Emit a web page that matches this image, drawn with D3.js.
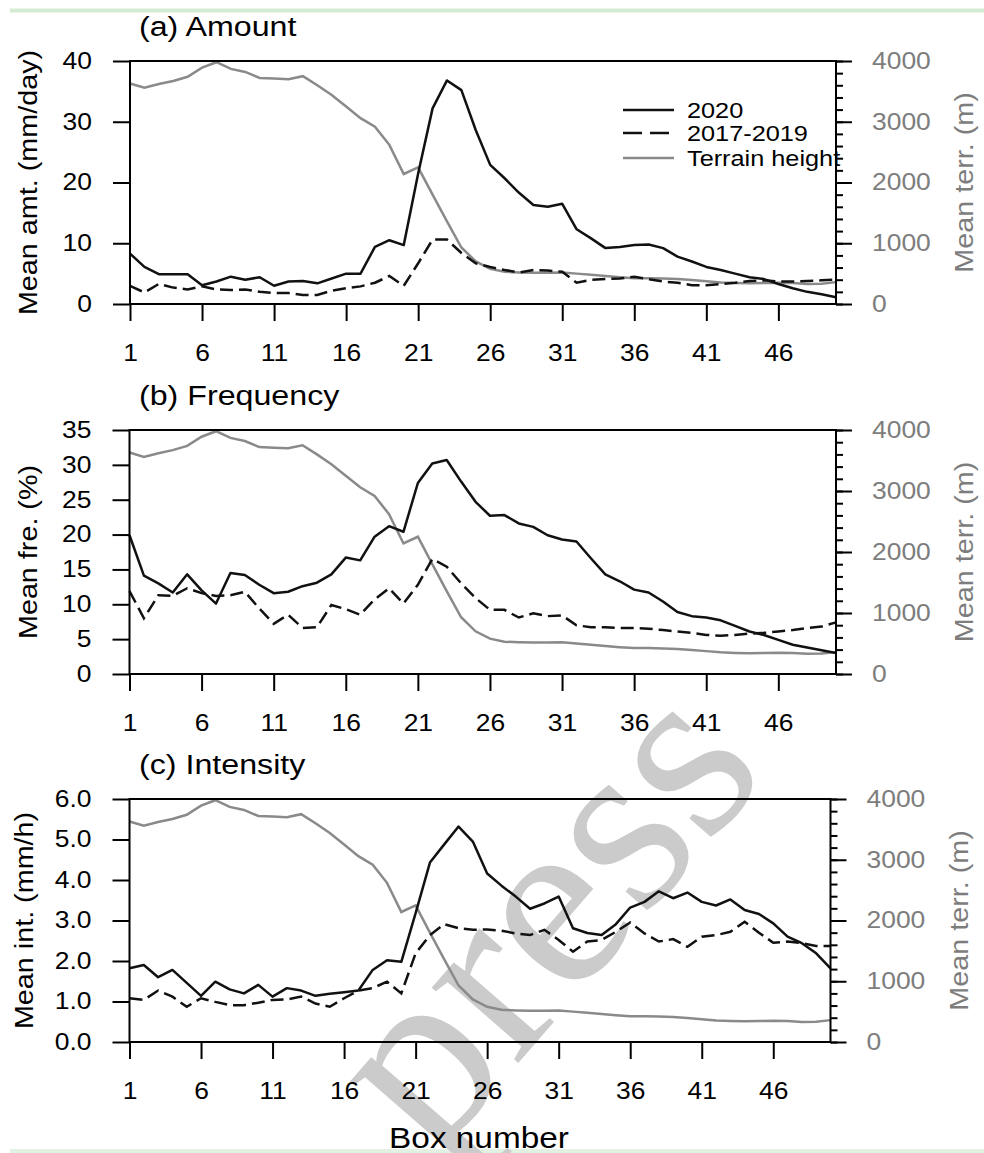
<!DOCTYPE html>
<html>
<head>
<meta charset="utf-8">
<script src="https://cdn.jsdelivr.net/npm/d3@7"></script>
<style>
  body { margin: 0; background: #fff; }
  svg { display: block; }
  text { font-family: "Liberation Sans", Arial, sans-serif; }
</style>
</head>
<body>
<svg id="chart" width="984" height="1153"></svg>
<script>
// box numbers along the x axis
const boxes = d3.range(1, 51)
const boxTicks = [1, 6, 11, 16, 21, 26, 31, 36, 41, 46]

// mean terrain height per box (m), same in all three panels
const terrain = [3630, 3560, 3620, 3670, 3740, 3890, 3980, 3870, 3820, 3720,
  3710, 3700, 3750, 3600, 3440, 3250, 3060, 2920, 2620, 2140,
  2250, 1800, 1360, 930, 700, 580, 530, 520, 515, 515,
  520, 500, 480, 460, 440, 425, 425, 420, 410, 395,
  375, 355, 345, 340, 345, 350, 345, 330, 335, 360]
const terrTicks = [0, 1000, 2000, 3000, 4000]

// (a) amount, mm/day
const amt2020 = [8.3, 6.1, 4.9, 4.9, 4.9, 3.1, 3.7, 4.5, 4.0, 4.4,
  3.0, 3.7, 3.8, 3.4, 4.2, 5.0, 5.0, 9.4, 10.5, 9.7,
  21.5, 32.2, 36.8, 35.2, 28.6, 22.9, 20.7, 18.3, 16.3, 16.0,
  16.5, 12.3, 10.8, 9.2, 9.4, 9.7, 9.8, 9.2, 7.8, 7.0,
  6.1, 5.6, 5.0, 4.4, 4.1, 3.3, 2.6, 2.0, 1.6, 1.1]
const amt1719 = [3.0, 1.9, 3.3, 2.7, 2.4, 2.9, 2.4, 2.3, 2.4, 2.0,
  1.8, 1.8, 1.5, 1.5, 2.2, 2.6, 2.9, 3.5, 4.6, 3.0,
  6.7, 10.6, 10.6, 8.4, 6.7, 6.1, 5.6, 5.2, 5.6, 5.5,
  5.3, 3.5, 4.0, 4.1, 4.2, 4.5, 4.1, 3.7, 3.5, 3.1,
  3.1, 3.3, 3.5, 3.8, 3.9, 3.7, 3.7, 3.8, 3.9, 4.0]
const amtTicks = [0, 10, 20, 30, 40]

// (b) frequency, %
const fre2020 = [19.9, 14.1, 13.0, 11.7, 14.3, 12.0, 10.1, 14.5, 14.2, 12.8,
  11.6, 11.8, 12.6, 13.1, 14.3, 16.7, 16.3, 19.7, 21.2, 20.4,
  27.4, 30.2, 30.7, 27.6, 24.7, 22.7, 22.8, 21.6, 21.1, 19.9,
  19.3, 19.0, 16.6, 14.3, 13.3, 12.1, 11.7, 10.4, 8.9, 8.3,
  8.1, 7.7, 6.9, 6.1, 5.6, 4.9, 4.2, 3.8, 3.4, 3.0]
const fre1719 = [11.9, 8.0, 11.3, 11.2, 12.3, 11.6, 11.2, 11.3, 11.8, 9.4,
  7.2, 8.5, 6.6, 6.7, 9.9, 9.3, 8.5, 10.7, 12.3, 10.1,
  12.8, 16.5, 15.4, 13.0, 10.9, 9.2, 9.2, 8.1, 8.7, 8.3,
  8.4, 7.0, 6.7, 6.7, 6.6, 6.6, 6.5, 6.3, 6.1, 5.9,
  5.6, 5.5, 5.6, 5.8, 5.9, 6.1, 6.3, 6.6, 6.8, 7.4]
const freTicks = [0, 5, 10, 15, 20, 25, 30, 35]

// (c) intensity, mm/h
const int2020 = [1.82, 1.90, 1.60, 1.78, 1.46, 1.14, 1.49, 1.30, 1.20, 1.41,
  1.12, 1.33, 1.27, 1.14, 1.19, 1.23, 1.27, 1.78, 2.02, 1.98,
  3.18, 4.43, 4.88, 5.32, 4.95, 4.16, 3.86, 3.59, 3.29, 3.42,
  3.59, 2.81, 2.69, 2.64, 2.91, 3.32, 3.46, 3.72, 3.55, 3.69,
  3.46, 3.37, 3.52, 3.26, 3.16, 2.93, 2.60, 2.44, 2.19, 1.82]
const int1719 = [1.08, 1.04, 1.27, 1.12, 0.87, 1.08, 0.99, 0.91, 0.91, 0.97,
  1.04, 1.05, 1.12, 0.95, 0.87, 1.08, 1.27, 1.33, 1.49, 1.20,
  2.19, 2.64, 2.91, 2.81, 2.77, 2.78, 2.75, 2.68, 2.64, 2.77,
  2.52, 2.23, 2.48, 2.52, 2.72, 2.95, 2.68, 2.48, 2.54, 2.35,
  2.60, 2.64, 2.72, 2.97, 2.70, 2.45, 2.48, 2.44, 2.37, 2.37]
const intTicks = [0, 1, 2, 3, 4, 5, 6]

const legendNames = ['2020', '2017-2019', 'Terrain height']

// NCL's helvetica runs wider than Liberation Sans, so stretch text along its run
const S = 1.15
const svg = d3.select('#chart')

function label(x, y, str, size, opts) {
  opts = opts || {}
  return svg.append('text')
    .attr('transform', `translate(${x},${y}) rotate(${opts.rot || 0}) scale(${S},1)`)
    .attr('text-anchor', opts.anchor || 'start')
    .attr('font-size', size)
    .attr('fill', opts.fill || '#000')
    .text(str)
}
function widen(axisG) {
  axisG.selectAll('text')
    .attr('x', function() { return (+d3.select(this).attr('x') || 0) / S })
    .attr('transform', `scale(${S},1)`)
}

// faint page rules
svg.append('line').attr('x1', 10).attr('x2', 984).attr('y1', 10.5).attr('y2', 10.5)
  .attr('stroke', '#d2ebd2').attr('stroke-width', 4)
svg.append('line').attr('x1', 10).attr('x2', 984).attr('y1', 1151).attr('y2', 1151)
  .attr('stroke', '#e3f1e3').attr('stroke-width', 4)

// publisher watermark (runs off the bottom edge, as in the source)
svg.append('text')
  .attr('transform', 'translate(433,1161) rotate(-49)')
  .style('font-family', '"Liberation Serif", serif')
  .attr('font-size', 250)
  .attr('fill', '#cbcbcb')
  .text('press')

const panels = [
  { title: '(a) Amount', ylab: 'Mean amt. (mm/day)', s20: amt2020, s17: amt1719, ticks: amtTicks, fmt: 'd',
    top: 61, bottom: 304, left: 130, right: 836, ylabX: 37 },
  { title: '(b) Frequency', ylab: 'Mean fre. (%)', s20: fre2020, s17: fre1719, ticks: freTicks, fmt: 'd',
    top: 430, bottom: 674, left: 129.5, right: 836, ylabX: 37 },
  { title: '(c) Intensity', ylab: 'Mean int. (mm/h)', s20: int2020, s17: int1719, ticks: intTicks, fmt: '.1f',
    top: 799, bottom: 1042, left: 129.5, right: 830.5, ylabX: 33 }
]

panels.forEach((p, k) => {
  const x = d3.scaleLinear().domain([1, 50]).range([p.left, p.right])
  const y = d3.scaleLinear().domain([0, d3.max(p.ticks)]).range([p.bottom, p.top])
  const yT = d3.scaleLinear().domain([0, 4000]).range([p.bottom, p.top])
  const line = sc => d3.line().x((d, i) => x(boxes[i])).y(d => sc(d))

  svg.append('path').datum(terrain).attr('d', line(yT))
    .attr('fill', 'none').attr('stroke', '#8a8a8a').attr('stroke-width', 2.5)
  svg.append('path').datum(p.s17).attr('d', line(y))
    .attr('fill', 'none').attr('stroke', '#111').attr('stroke-width', 2.5)
    .attr('stroke-dasharray', '13,6')
  svg.append('path').datum(p.s20).attr('d', line(y))
    .attr('fill', 'none').attr('stroke', '#111').attr('stroke-width', 2.5)
    .attr('stroke-linejoin', 'round')

  // frame
  svg.append('rect').attr('x', p.left).attr('y', p.top)
    .attr('width', p.right - p.left).attr('height', p.bottom - p.top)
    .attr('fill', 'none').attr('stroke', '#000').attr('stroke-width', 2)

  // left axis
  const ax = svg.append('g').attr('transform', `translate(${p.left},0)`)
    .call(d3.axisLeft(y).tickValues(p.ticks).tickFormat(d3.format(p.fmt)).tickSize(17).tickPadding(21))
  ax.select('.domain').remove()
  ax.attr('font-size', 23)
  ax.selectAll('line').attr('stroke-width', 2)
  ax.selectAll('text').attr('fill', '#000')
  widen(ax)

  // bottom axis
  const bx = svg.append('g').attr('transform', `translate(0,${p.bottom})`)
    .call(d3.axisBottom(x).tickValues(boxTicks).tickFormat(d3.format('d')).tickSize(17).tickPadding(24))
  bx.select('.domain').remove()
  bx.attr('font-size', 23)
  bx.selectAll('line').attr('stroke-width', 2)
  bx.selectAll('text').attr('fill', '#000')
  widen(bx)

  // right axis, terrain
  const rMinor = svg.append('g').attr('transform', `translate(${p.right},0)`)
    .call(d3.axisRight(yT).tickValues(d3.range(0, 4001, 200)).tickFormat('').tickSize(7))
  rMinor.select('.domain').remove()
  rMinor.selectAll('line').attr('stroke-width', 2)
  const rx = svg.append('g').attr('transform', `translate(${p.right},0)`)
    .call(d3.axisRight(yT).tickValues(terrTicks).tickFormat(d3.format('d')).tickSize(16).tickPadding(20))
  rx.select('.domain').remove()
  rx.attr('font-size', 23)
  rx.selectAll('line').attr('stroke-width', 2)
  rx.selectAll('text').attr('fill', '#7d7d7d')
  widen(rx)

  // titles
  label(139, p.top - 25, p.title, 28)
  label(p.ylabX, (p.top + p.bottom) / 2, p.ylab, 25, { rot: -90, anchor: 'middle' })
  label(p.right + 137, (p.top + p.bottom) / 2, 'Mean terr. (m)', 25, { rot: -90, anchor: 'middle', fill: '#7d7d7d' })

  if (k === 0) {
    const rows = [110, 133, 158]
    const styles = [
      { stroke: '#111', dash: null },
      { stroke: '#111', dash: '19,8' },
      { stroke: '#8a8a8a', dash: null }
    ]
    legendNames.forEach((name, i) => {
      svg.append('line').attr('x1', 623).attr('x2', 674).attr('y1', rows[i]).attr('y2', rows[i])
        .attr('stroke', styles[i].stroke).attr('stroke-width', 2.5)
        .attr('stroke-dasharray', styles[i].dash)
      label(687, rows[i] + 8, name, 22)
    })
  }
})

label(479, 1148, 'Box number', 29, { anchor: 'middle' })
</script>
</body>
</html>
